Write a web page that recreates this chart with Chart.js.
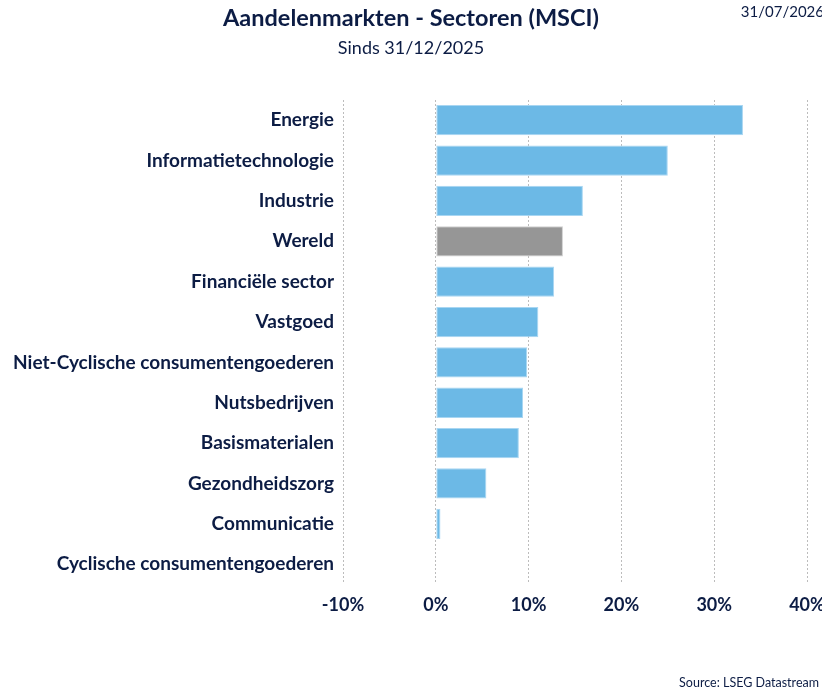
<!DOCTYPE html>
<html>
<head>
<meta charset="utf-8">
<script src="https://cdn.jsdelivr.net/npm/chart.js@4"></script>
<style>
  body { margin: 0; overflow: hidden; background: #fff; font-family: Lato, sans-serif; color: #0c1c44; }
  #wrap { position: absolute; left: 0; top: 0; width: 840px; height: 691px; }
  .txt { position: absolute; white-space: nowrap; }
  #title { left: 0; width: 822px; top: 3px; text-align: center; font-weight: bold; font-size: 23.5px; }
  #sub { left: 0; width: 822px; top: 36px; text-align: center; font-size: 18px; }
  #date { right: -2px; top: 2px; font-size: 15px; }
  #source { right: 3px; top: 675px; font-size: 12.5px; }
</style>
</head>
<body>
<div id="wrap"><canvas id="myChart"></canvas></div>
<div class="txt" id="title">Aandelenmarkten - Sectoren (MSCI)</div>
<div class="txt" id="sub">Sinds 31/12/2025</div>
<div class="txt" id="date">31/07/2026</div>
<div class="txt" id="source">Source: LSEG Datastream</div>
<script>
'use strict';
const sectors = [
  'Energie',
  'Informatietechnologie',
  'Industrie',
  'Wereld',
  'Financiële sector',
  'Vastgoed',
  'Niet-Cyclische consumentengoederen',
  'Nutsbedrijven',
  'Basismaterialen',
  'Gezondheidszorg',
  'Communicatie',
  'Cyclische consumentengoederen',
];
const returns = [33.1, 25.0, 15.85, 13.7, 12.75, 11.05, 9.85, 9.4, 8.95, 5.45, 0.5, 0.05];
const xTicks = [-10, 0, 10, 20, 30, 40];

const navy = '#0c1c44';
const fills = sectors.map(s => s === 'Wereld' ? '#969696' : '#6cb9e6');
const borders = sectors.map(s => s === 'Wereld' ? '#cfcfcf' : '#a8d6f2');

let ctx = document.getElementById('myChart').getContext('2d');
let chart = new Chart(ctx, {
  type: 'bar',
  data: {
    labels: sectors,
    datasets: [{
      data: returns,
      backgroundColor: fills,
      borderColor: borders,
      borderWidth: 1,
      borderSkipped: false,
      barPercentage: 0.75,
      categoryPercentage: 1
    }]
  },
  options: {
    indexAxis: 'y',
    responsive: true,
    maintainAspectRatio: false,
    animation: false,
    layout: { padding: { top: 100, right: 33, bottom: 65, left: 0 } },
    plugins: {
      legend: { display: false },
      tooltip: { enabled: false }
    },
    scales: {
      x: {
        min: xTicks[0],
        max: xTicks[xTicks.length - 1],
        afterBuildTicks: axis => { axis.ticks = xTicks.map(v => ({ value: v })); },
        border: { display: false, dash: [2, 2] },
        grid: { color: '#bcbcbc', lineWidth: 1, drawTicks: false },
        ticks: {
          padding: 10,
          color: navy,
          font: { family: 'Lato', size: 18, weight: 'bold' },
          callback: v => v + '%'
        }
      },
      y: {
        border: { display: false },
        grid: { display: false, drawTicks: false },
        afterFit: scale => { scale.width = 343; },
        ticks: {
          padding: 9,
          color: navy,
          font: { family: 'Lato', size: 19, weight: 'bold' }
        }
      }
    }
  }
});
</script>
</body>
</html>
